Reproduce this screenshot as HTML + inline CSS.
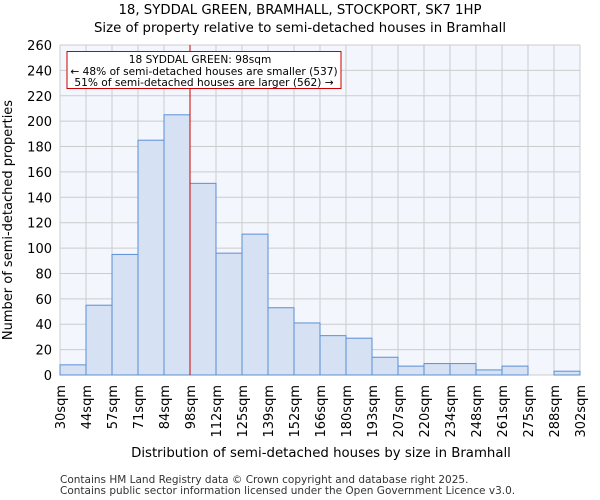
<!DOCTYPE html>
<html><head><style>body{margin:0;background:#fff}svg{display:block;font-family:"DejaVu Sans","Liberation Sans",sans-serif}</style></head><body>
<svg width="600" height="500" xmlns="http://www.w3.org/2000/svg">
<text x="300" y="14" font-size="13.3" text-anchor="middle">18, SYDDAL GREEN, BRAMHALL, STOCKPORT, SK7 1HP</text>
<text x="300" y="32" font-size="13.3" text-anchor="middle">Size of property relative to semi-detached houses in Bramhall</text>
<rect x="60" y="45" width="520" height="330" fill="#f3f6fc"/>
<g id="grid" stroke="#cccccc" stroke-width="1"></g>
<g id="bars"></g>
<line x1="190" y1="45" x2="190" y2="375" stroke="#cc0000" stroke-width="1"/>
<rect x="67" y="51.5" width="274" height="37" fill="#fff" stroke="#cc0000" stroke-width="1"/>
<text x="200" y="63" font-size="10.6" text-anchor="middle">18 SYDDAL GREEN: 98sqm</text>
<text x="204" y="75" font-size="10.6" text-anchor="middle">← 48% of semi-detached houses are smaller (537)</text>
<text x="204" y="86" font-size="10.6" text-anchor="middle">51% of semi-detached houses are larger (562) →</text>
<g id="yt" font-size="13" text-anchor="end"></g>
<g id="xt" font-size="13"></g>
<text x="321" y="457" font-size="13.3" text-anchor="middle">Distribution of semi-detached houses by size in Bramhall</text>
<text transform="translate(12,220) rotate(-90)" font-size="13" text-anchor="middle">Number of semi-detached properties</text>
<text x="60" y="483" font-size="10.5" fill="#333">Contains HM Land Registry data © Crown copyright and database right 2025.</text>
<text x="60" y="494" font-size="10.5" fill="#333">Contains public sector information licensed under the Open Government Licence v3.0.</text>
</svg>
<script>
const ns="http://www.w3.org/2000/svg";
function el(p,t,a,txt){const e=document.createElementNS(ns,t);for(const k in a)e.setAttribute(k,a[k]);if(txt!==undefined)e.textContent=txt;document.getElementById(p).appendChild(e);}
const vals=[8,55,95,185,205,151,96,111,53,41,31,29,14,7,9,9,4,7,0,3];
const labs=["30sqm","44sqm","57sqm","71sqm","84sqm","98sqm","112sqm","125sqm","139sqm","152sqm","166sqm","180sqm","193sqm","207sqm","220sqm","234sqm","248sqm","261sqm","275sqm","288sqm","302sqm"];
const k=330/260;
for(let v=0;v<=260;v+=20){const y=375-v*k;el("grid","line",{x1:60,x2:580,y1:y,y2:y});el("yt","text",{x:52,y:y+5},v);}
for(let i=0;i<=20;i++){const x=60+i*26;el("grid","line",{x1:x,x2:x,y1:45,y2:375});
el("xt","text",{transform:`translate(${x+5},385) rotate(-90)`,"text-anchor":"end"},labs[i]);}
vals.forEach((v,i)=>{if(v>0){const h=v*k;el("bars","rect",{x:60+i*26,y:375-h,width:26,height:h,fill:"#d6e2f3",stroke:"#5b8fd6","stroke-width":1});}});
</script>
</body></html>
